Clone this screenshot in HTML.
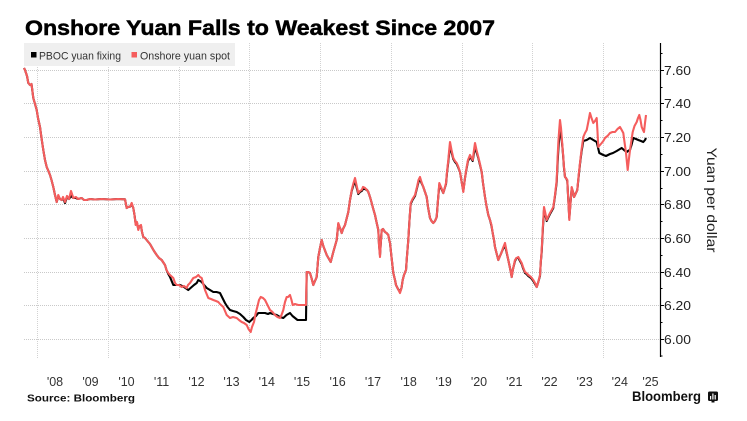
<!DOCTYPE html>
<html>
<head>
<meta charset="utf-8">
<style>
html,body{margin:0;padding:0;background:#fff;}
body{width:747px;height:421px;overflow:hidden;}
svg{display:block;font-family:"Liberation Sans",Arial,sans-serif;}
</style>
</head>
<body>
<svg width="747" height="421" viewBox="0 0 747 421" xmlns="http://www.w3.org/2000/svg">
<rect width="747" height="421" fill="#fff"/>

<!-- Title -->
<text x="25" y="35" font-size="21" font-weight="bold" fill="#000" stroke="#000" stroke-width="0.5" textLength="470" lengthAdjust="spacingAndGlyphs">Onshore Yuan Falls to Weakest Since 2007</text>

<!-- horizontal grid -->
<g stroke="#c9c9c9" stroke-width="1" stroke-dasharray="1,1">
<line x1="24" x2="660" y1="70.5" y2="70.5"/>
<line x1="24" x2="660" y1="103.5" y2="103.5"/>
<line x1="24" x2="660" y1="137.5" y2="137.5"/>
<line x1="24" x2="660" y1="171.5" y2="171.5"/>
<line x1="24" x2="660" y1="204.5" y2="204.5"/>
<line x1="24" x2="660" y1="238.5" y2="238.5"/>
<line x1="24" x2="660" y1="272.5" y2="272.5"/>
<line x1="24" x2="660" y1="305.5" y2="305.5"/>
<line x1="24" x2="660" y1="339.5" y2="339.5"/>
</g>
<!-- vertical grid -->
<g stroke="#d2d2d2" stroke-width="1" stroke-dasharray="1,1">
<line x1="37.5" x2="37.5" y1="43" y2="358"/>
<line x1="108.5" x2="108.5" y1="43" y2="358"/>
<line x1="179.5" x2="179.5" y1="43" y2="358"/>
<line x1="249.5" x2="249.5" y1="43" y2="358"/>
<line x1="320.5" x2="320.5" y1="43" y2="358"/>
<line x1="391.5" x2="391.5" y1="43" y2="358"/>
<line x1="462.5" x2="462.5" y1="43" y2="358"/>
<line x1="532.5" x2="532.5" y1="43" y2="358"/>
<line x1="603.5" x2="603.5" y1="43" y2="358"/>
</g>

<!-- Legend -->
<rect x="24" y="43" width="211" height="23" fill="#efefef"/>
<rect x="31" y="52" width="5.5" height="5.5" fill="#000"/>
<text x="39" y="59.5" font-size="11" fill="#333" textLength="82" lengthAdjust="spacingAndGlyphs">PBOC yuan fixing</text>
<rect x="131.5" y="52" width="5.5" height="5.5" fill="#f55d5d"/>
<text x="140" y="59.5" font-size="11" fill="#333" textLength="90" lengthAdjust="spacingAndGlyphs">Onshore yuan spot</text>

<!-- Black series (PBOC fixing) -->
<polyline fill="none" stroke="#000" stroke-width="2.1" stroke-linejoin="round" points="
24,68 25,70 27,76 28.3,83 30,85 31.5,84 33.3,98 35,104 36.7,110 38,118 40,127 41.5,138 43.3,150 45,160 46.7,167 48,170 50,175 51.5,180 53.3,187 55,195 56.7,202 58.3,196 60,199 61.7,200 63,198 65,203 67,197 69,199 71,196 73.3,198 76,198 78,199 81.7,198 84,200 86.7,200 90,199 95,199.5 101.7,199 110,199.5 118,199 125,199.3 126.7,208 128,207 130,206.7 131.7,204 133.3,208 134.5,215 135.7,224 137,223 138.3,229 139.5,226 141,226 142,232 143.3,237 145,238 148.3,242 150,244 151.7,247 154,251 156.7,255 159,258 161.7,260 163,262 165,265 166.5,270 168.3,274 170,277
173.3,285 176.7,285 180,285 184,287 188.3,290 191.7,287 194,285 196.7,283 198.3,280 201.7,282 204,285 206.7,288 210,290 213.3,292 216.5,292 220,293 222.5,298 225,303 227.5,307 230,310 233,311 236.7,312 240,314 243.3,317 246,320 249.3,322 251.5,320 253.3,318 256,316 258.3,313 261,313 265,313 268,314 270,313 273,314 276.7,315 280,317 283.3,318 286.5,315 290,313 292.5,316 295,318 297.5,320 300,320 303,320 306,320 306.7,272
308,272 310,273 311.5,278 313.3,285 315,281 316.7,277 318.3,257 320,248 321.7,240 323.3,246 326.7,255 330.7,262 333.3,252 336.7,240 338.3,224 340,228 341.7,233 343,229 345,225 348.3,212 350,200 351.7,191 353.5,185 355,181 356.5,187 358.3,194 360,192 361.7,191 363,189 365,189 367,190 368.3,192 370,197 371.7,203 373,208 375,215 376.5,222 378.3,230 379,244 380,255 380.8,243 381.7,230 383,229 385,232 386.5,233 388.3,235 389,239 390,243 391.5,257 393.3,273 395,280 396,285 398,289 400,292 401.5,288 402.7,280 404,275 406,270 407,256 408.3,240 409.5,220 410.7,204 412.5,200 415,196 417,188 418.5,182 420,179 421.5,183 423.3,187 425,192 426.7,197 428,207 430,218 431.5,221 433.3,223 435,221 436.7,217 438,200 439.3,185 441,188 443.3,193 444.5,189 446,184 447,173 448.3,162 449.2,153 450,146 451.5,152 453.3,159 455,162 456.7,164 458,167 460,172 461.5,181 463.3,191 465,178 466.7,168 468,161 470,157 471.5,159 472.7,161 474,153 475,147 476.5,152 478.3,158 480,165 481.7,172 483,183 485,197 486.5,206 488.3,215 490,220
491.5,226 492.7,233 494,240 495,247 496.5,253 498.3,260 500,256 501.7,252 503,249 505,245 506.5,252 508.3,260 510,268 511.7,277 513,269 515,261 516.5,258 518.3,258 520,261 521.7,264 523,268 525,273 526.5,274 528.3,276 531,278 533.3,281 535,284 536.7,287 538,283 540,276 540.8,262 541.7,252 542.8,230 544,210 545.3,215 546.7,221 548,218 550,214 551.7,211 553.3,208 555,196 556.7,182 557.5,165 558.3,150 559.2,138 560,131 561,135 561.7,140 562.5,148 563.3,158 564,168 565,177 566,178 567.3,181 568.3,200 569.3,218 570.5,203 571.7,188 573,192 574,197 575.5,194 577.3,190 578.5,178 580,164 581.5,152 583.3,141 586.7,140 590,138 593.3,140 596.7,142 599.3,153 603.3,155 606,156 610,154 613,153 616.7,151 620,149 621.7,148 624,150 626.7,152 628,151 630,150 631.5,145 633.3,138 636,139 638.3,140 641,141 643.3,142 645,140 646,138"/>

<!-- Red series (onshore spot) -->
<polyline fill="none" stroke="#f55d5d" stroke-width="2.1" stroke-linejoin="round" points="
24,68 25,70 27,76 28.3,83 30,85 31.5,84 33.3,98 35,104 36.7,110 38,118 40,127 41.5,138 43.3,150 45,160 46.7,167 48,170 50,175 51.5,180 53.3,187 55,195 56.7,202 58.3,195 60,199 61.7,200 63,197 65,202 67,196 69,199 71,191 73.3,198 76,197 78,199 81.7,198 84,200 86.7,200 90,199 95,199.5 101.7,199 110,199.5 118,199 125,199.3 126.7,208 128,207 130,206.7 131.7,203 133.3,208 134.5,215 135.7,225 137,222 138.3,230 139.5,226 141,225 142,232 143.3,237 145,238 148.3,242 150,244 151.7,247 154,251 156.7,255 159,258 161.7,260 163,262 165,265 166.5,270 168.3,273 170,275
173.3,278 175,283 176.7,285 179,285 181.7,287 184,286 186.7,288 188,285 190,283 193.3,278 196,277 198.3,275 200,277 201.7,278 203,283 205,290 208.3,298 211,299 213.3,300 216,301 218.3,302 220,304 223.3,307 225,311 226.7,315 230,318 233,317 236.7,318 239,320 241.7,322 244,323 246.7,325 248.5,329 250.7,332 252,327 254,322 255.5,314 257.3,307 259,300 260.7,297 263,298 265,300 267,304 270,310 272.5,312 275,315 277.5,317 280,318 281.5,315 283.3,310 285,302 286.7,297 288,297 290,295 291.5,300 292.7,305 295,304 298.3,305 302,305 306,305 306.7,272
308,272 310,273 311.5,278 313.3,285 315,281 316.7,277 318.3,257 320,248 321.7,240 323.3,246 326.7,255 330.7,262 333.3,252 336.7,240 338.3,223 340,228 341.7,233 343,229 345,225 348.3,212 350,200 351.7,190 353.5,183 355,178 356.5,185 358.3,193 360,191 361.7,190 363,187 365,188 367,190 368.3,192 370,197 371.7,203 373,208 375,215 376.5,222 378.3,230 379,245 380,257 380.8,243 381.7,230 383,229 385,232 386.5,233 388.3,235 389,239 390,243 391.5,257 393.3,273 395,280 396,285 398,289 400,293 401.5,288 402.7,280 404,275 406,270 407,256 408.3,240 409.5,220 410.7,203 412.5,199 415,195 417,187 418.5,180 420,177 421.5,182 423.3,187 425,192 426.7,197 428,207 430,218 431.5,221 433.3,223 435,221 436.7,217 438,200 439.3,183 441,187 443.3,193 444.5,189 446,183 447,172 448.3,160 449.2,150 450,142 451.5,150 453.3,158 455,161 456.7,163 458,166 460,172 461.5,181 463.3,192 465,178 466.7,167 468,160 470,155 471.5,158 472.7,160 474,150 475,143 476.5,150 478.3,157 480,164 481.7,172 483,183 485,197 486.5,206 488.3,215 490,220
491.5,225 492.7,233 494,240 495,247 496.5,253 498.3,260 500,256 501.7,252 503,248 505,243 506.5,251 508.3,260 510,268 511.7,277 513,269 515,260 516.5,258 518.3,257 520,260 521.7,263 523,267 525,272 526.5,273 528.3,275 531,277 533.3,280 535,283 536.7,287 538,283 540,275 540.8,262 541.7,250 542.8,228 544,207 545.3,213 546.7,220 548,217 550,213 551.7,210 553.3,207 555,195 556.7,180 557.5,160 558.3,143 559.2,130 560,120 561,128 561.7,137 562.5,147 563.3,157 564,167 565,177 566,178 567.3,180 568.3,200 569.3,220 570.5,203 571.7,187 573,192 574,197 575.5,194 577.3,190 578.5,177 580,163 581.5,150 583.3,137 585,133 586.7,130 588.3,122 590,113 591.5,118 593.3,123 595,121 596.7,118 597.5,132 598.3,147 600,145 601.7,143 603.3,141 605,138 607.5,136 610,133 612.5,132 615,132 617.5,129 620,127 621.7,130 623.3,133 624.5,142 626,153 627.7,170 628.8,160 630,150 631.5,140 632.7,132 634.5,126 636.7,122 638,118 639.3,115 640.5,120 641.7,127 643,130 644,132 645,123 646,115"/>

<!-- Y axis -->
<line x1="660.5" x2="660.5" y1="43" y2="357" stroke="#000" stroke-width="1.2"/>
<g stroke="#000" stroke-width="1">
<line x1="660" x2="664" y1="70.5" y2="70.5"/>
<line x1="660" x2="664" y1="103.5" y2="103.5"/>
<line x1="660" x2="664" y1="137.5" y2="137.5"/>
<line x1="660" x2="664" y1="171.5" y2="171.5"/>
<line x1="660" x2="664" y1="204.5" y2="204.5"/>
<line x1="660" x2="664" y1="238.5" y2="238.5"/>
<line x1="660" x2="664" y1="272.5" y2="272.5"/>
<line x1="660" x2="664" y1="305.5" y2="305.5"/>
<line x1="660" x2="664" y1="339.5" y2="339.5"/>
<line x1="660" x2="662.5" y1="53.5" y2="53.5"/>
<line x1="660" x2="662.5" y1="87.5" y2="87.5"/>
<line x1="660" x2="662.5" y1="120.5" y2="120.5"/>
<line x1="660" x2="662.5" y1="154.5" y2="154.5"/>
<line x1="660" x2="662.5" y1="188.5" y2="188.5"/>
<line x1="660" x2="662.5" y1="221.5" y2="221.5"/>
<line x1="660" x2="662.5" y1="255.5" y2="255.5"/>
<line x1="660" x2="662.5" y1="288.5" y2="288.5"/>
<line x1="660" x2="662.5" y1="322.5" y2="322.5"/>
<line x1="660" x2="662.5" y1="356" y2="356"/>
</g>
<g font-size="12.5" fill="#222">
<text x="664" y="75" textLength="27" lengthAdjust="spacingAndGlyphs">7.60</text>
<text x="664" y="108" textLength="27" lengthAdjust="spacingAndGlyphs">7.40</text>
<text x="664" y="142" textLength="27" lengthAdjust="spacingAndGlyphs">7.20</text>
<text x="664" y="176" textLength="27" lengthAdjust="spacingAndGlyphs">7.00</text>
<text x="664" y="209" textLength="27" lengthAdjust="spacingAndGlyphs">6.80</text>
<text x="664" y="243" textLength="27" lengthAdjust="spacingAndGlyphs">6.60</text>
<text x="664" y="277" textLength="27" lengthAdjust="spacingAndGlyphs">6.40</text>
<text x="664" y="310" textLength="27" lengthAdjust="spacingAndGlyphs">6.20</text>
<text x="664" y="344" textLength="27" lengthAdjust="spacingAndGlyphs">6.00</text>
</g>
<text transform="translate(707,200) rotate(90)" text-anchor="middle" font-size="14" fill="#222" textLength="105" lengthAdjust="spacingAndGlyphs">Yuan per dollar</text>

<!-- X labels -->
<g font-size="12.5" fill="#333" text-anchor="middle">
<text x="55" y="386">'08</text>
<text x="90.5" y="386">'09</text>
<text x="126.5" y="386">'10</text>
<text x="161.5" y="386">'11</text>
<text x="196.5" y="386">'12</text>
<text x="231.5" y="386">'13</text>
<text x="266.8" y="386">'14</text>
<text x="302" y="386">'15</text>
<text x="337.6" y="386">'16</text>
<text x="373" y="386">'17</text>
<text x="408.7" y="386">'18</text>
<text x="443.7" y="386">'19</text>
<text x="479" y="386">'20</text>
<text x="514.3" y="386">'21</text>
<text x="549.5" y="386">'22</text>
<text x="584.7" y="386">'23</text>
<text x="619.8" y="386">'24</text>
<text x="650.5" y="386">'25</text>
</g>

<!-- Footer -->
<text x="27" y="401.5" font-size="10.5" font-weight="bold" fill="#111" textLength="108" lengthAdjust="spacingAndGlyphs">Source: Bloomberg</text>
<text x="632" y="401" font-size="14" font-weight="bold" fill="#111" textLength="69" lengthAdjust="spacingAndGlyphs">Bloomberg</text>
<rect x="708" y="391.5" width="10" height="9.5" rx="1.5" fill="#111"/>
<rect x="711.5" y="400" width="3" height="2.5" fill="#111"/>
<g fill="#fff">
<rect x="710" y="396" width="1.2" height="3.5"/>
<rect x="712.3" y="393.5" width="1.2" height="6"/>
<rect x="714.6" y="395" width="1.2" height="4.5"/>
</g>
</svg>
</body>
</html>
